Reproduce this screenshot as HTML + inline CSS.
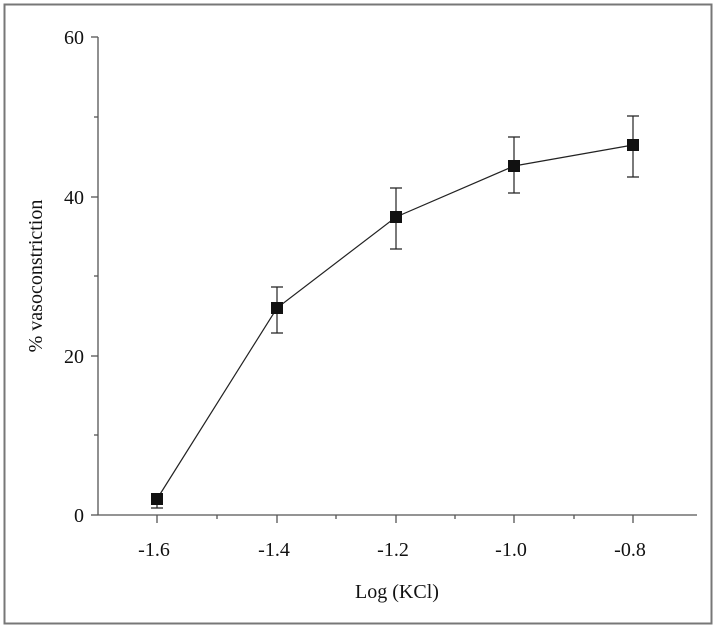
<!DOCTYPE html>
<html><head><style>
body{margin:0;background:#fff}
svg text{font-family:"Liberation Serif",serif;fill:#111}
</style></head><body>
<svg width="717" height="629" viewBox="0 0 717 629" xmlns="http://www.w3.org/2000/svg">
<rect x="4.5" y="4.5" width="707" height="619" fill="none" stroke="#777" stroke-width="2"/>
<g stroke="#555" stroke-width="1.3" fill="none">
<line x1="98" y1="37" x2="98" y2="515"/>
<line x1="98" y1="515" x2="697" y2="515"/>
<line x1="91" y1="37" x2="98" y2="37"/>
<line x1="91" y1="197" x2="98" y2="197"/>
<line x1="91" y1="356" x2="98" y2="356"/>
<line x1="91" y1="515" x2="98" y2="515"/>
<line x1="94" y1="117" x2="98" y2="117"/>
<line x1="94" y1="276" x2="98" y2="276"/>
<line x1="94" y1="435" x2="98" y2="435"/>
<line x1="157" y1="515" x2="157" y2="523"/>
<line x1="277" y1="515" x2="277" y2="523"/>
<line x1="396" y1="515" x2="396" y2="523"/>
<line x1="514" y1="515" x2="514" y2="523"/>
<line x1="633" y1="515" x2="633" y2="523"/>
<line x1="217" y1="515" x2="217" y2="519"/>
<line x1="336" y1="515" x2="336" y2="519"/>
<line x1="455" y1="515" x2="455" y2="519"/>
<line x1="574" y1="515" x2="574" y2="519"/>
</g>
<g font-size="20" text-anchor="end">
<text x="84" y="44">60</text>
<text x="84" y="204">40</text>
<text x="84" y="363">20</text>
<text x="84" y="522">0</text>
</g>
<g font-size="20" text-anchor="middle">
<text x="154" y="556">-1.6</text>
<text x="274" y="556">-1.4</text>
<text x="393" y="556">-1.2</text>
<text x="511" y="556">-1.0</text>
<text x="630" y="556">-0.8</text>
<text x="397" y="598">Log (KCl)</text>
</g>
<text font-size="20" text-anchor="middle" transform="translate(42,276) rotate(-90)">% vasoconstriction</text>
<g stroke="#222" stroke-width="1.2" fill="none">
<polyline points="157,499 277,308 396,217 514,166 633,145"/>
<path d="M157,497V508M151,508H163"/>
<path d="M277,287V333M271,287H283M271,333H283"/>
<path d="M396,188V249M390,188H402M390,249H402"/>
<path d="M514,137V193M508,137H520M508,193H520"/>
<path d="M633,116V177M627,116H639M627,177H639"/>
</g>
<g fill="#111">
<rect x="151" y="493" width="12" height="12"/>
<rect x="271" y="302" width="12" height="12"/>
<rect x="390" y="211" width="12" height="12"/>
<rect x="508" y="160" width="12" height="12"/>
<rect x="627" y="139" width="12" height="12"/>
</g>
</svg>
</body></html>
